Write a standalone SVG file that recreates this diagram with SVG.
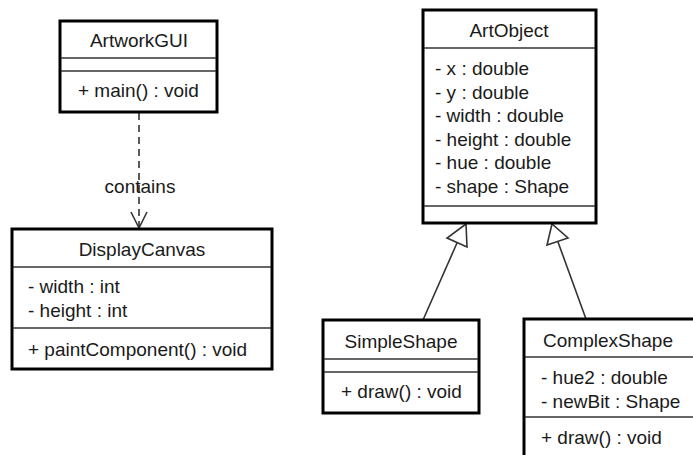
<svg xmlns="http://www.w3.org/2000/svg" width="693" height="455" viewBox="0 0 693 455">
  <style>
    .box { fill: #ffffff; stroke: #000000; stroke-width: 3; }
    .div { stroke: #333333; stroke-width: 1.5; fill: none; }
    text { font-family: "Liberation Sans", Arial, sans-serif; font-size: 19px; fill: #1a1a1a; }
    .title { text-anchor: middle; }
    .edge { stroke: #333333; stroke-width: 1.6; fill: none; }
    .dash { stroke-dasharray: 7 5; }
    .tri { fill: #ffffff; stroke: #333333; stroke-width: 1.6; }
  </style>
  <rect width="693" height="455" fill="#ffffff"/>

  <g id="connectors">
    <!-- dependency: ArtworkGUI to DisplayCanvas -->
    <line class="edge dash" x1="139" y1="113" x2="139" y2="227"/>
    <polyline class="edge" points="131,212 139,228 147,212"/>
    <text x="140" y="193" class="title">contains</text>
    <!-- generalization: SimpleShape to ArtObject -->
    <line class="edge" x1="423" y1="320" x2="457" y2="243"/>
    <polygon class="tri" points="466,224 447,238 467,247"/>
    <!-- generalization: ComplexShape to ArtObject -->
    <line class="edge" x1="586" y1="319" x2="558" y2="242"/>
    <polygon class="tri" points="552,224 547,245 568,238"/>
  </g>

  <g id="ArtworkGUI">
    <rect class="box" x="60" y="21" width="157" height="91"/>
    <line class="div" x1="61" y1="58" x2="216" y2="58"/>
    <line class="div" x1="61" y1="71" x2="216" y2="71"/>
    <text x="139" y="47" class="title">ArtworkGUI</text>
    <text x="78" y="97">+ main() : void</text>
  </g>

  <g id="DisplayCanvas">
    <rect class="box" x="12" y="229" width="260" height="140"/>
    <line class="div" x1="13" y1="267" x2="271" y2="267"/>
    <line class="div" x1="13" y1="328" x2="271" y2="328"/>
    <text x="142" y="256" class="title">DisplayCanvas</text>
    <text x="28" y="293">- width : int</text>
    <text x="28" y="317">- height : int</text>
    <text x="28" y="356">+ paintComponent() : void</text>
  </g>

  <g id="ArtObject">
    <rect class="box" x="423" y="10" width="173" height="213"/>
    <line class="div" x1="424" y1="48" x2="595" y2="48"/>
    <line class="div" x1="424" y1="206" x2="595" y2="206"/>
    <text x="509" y="37" class="title">ArtObject</text>
    <text x="435" y="75">- x : double</text>
    <text x="435" y="99">- y : double</text>
    <text x="435" y="122">- width : double</text>
    <text x="435" y="146">- height : double</text>
    <text x="435" y="169">- hue : double</text>
    <text x="435" y="193">- shape : Shape</text>
  </g>

  <g id="SimpleShape">
    <rect class="box" x="323" y="320" width="156" height="93"/>
    <line class="div" x1="324" y1="359" x2="478" y2="359"/>
    <line class="div" x1="324" y1="372" x2="478" y2="372"/>
    <text x="401" y="348" class="title">SimpleShape</text>
    <text x="341" y="398">+ draw() : void</text>
  </g>

  <g id="ComplexShape">
    <rect class="box" x="524" y="319" width="175" height="142"/>
    <line class="div" x1="525" y1="357" x2="698" y2="357"/>
    <line class="div" x1="525" y1="417" x2="698" y2="417"/>
    <text x="608" y="347" class="title">ComplexShape</text>
    <text x="541" y="384">- hue2 : double</text>
    <text x="541" y="408">- newBit : Shape</text>
    <text x="541" y="444">+ draw() : void</text>
  </g>
</svg>
